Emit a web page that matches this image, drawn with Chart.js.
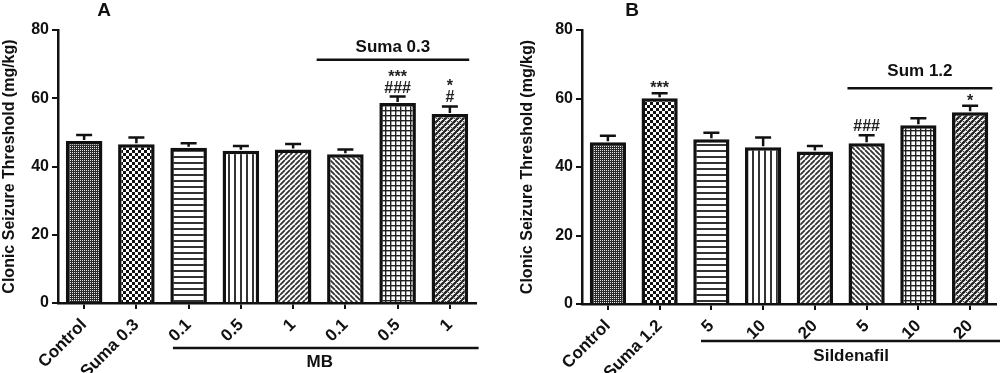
<!DOCTYPE html>
<html><head><meta charset="utf-8">
<script src="https://cdn.jsdelivr.net/npm/chart.js@4"></script>
<style>
html,body{margin:0;padding:0;background:#fff;}
#wrap{position:relative;width:1000px;height:373px;overflow:hidden;background:#fff;}
canvas{position:absolute;top:0;}
#cA{left:0}
#cB{left:500px}
</style></head><body>
<div id="wrap"><canvas id="cA" width="500" height="373"></canvas><canvas id="cB" width="500" height="373"></canvas></div>
<script>
// ---------- DATA ----------
const yTicks = [0, 20, 40, 60, 80];
const yTitle = 'Clonic Seizure Threshold (mg/kg)';

const categoriesA = ['Control', 'Suma 0.3', '0.1', '0.5', '1', '0.1', '0.5', '1'];
const valuesA = [47.5, 46.5, 45.5, 44.6, 45.0, 43.6, 58.6, 55.4];
const errorsA = [1.7, 2.0, 1.3, 1.4, 1.6, 1.4, 1.9, 2.2];
const marksA = [[], [], [], [], [], [], ['***', '###'], ['*', '#']];
const panelA = 'A';
const topGroupA = 'Suma 0.3';
const bottomGroupA = 'MB';

const categoriesB = ['Control', 'Suma 1.2', '5', '10', '20', '5', '10', '20'];
const valuesB = [47.2, 60.1, 48.1, 45.8, 44.5, 46.9, 52.2, 56.0];
const errorsB = [1.9, 1.4, 1.9, 2.8, 1.6, 2.4, 2.0, 1.9];
const marksB = [[], ['***'], [], [], [], ['###'], [], ['*']];
const panelB = 'B';
const topGroupB = 'Sum 1.2';
const bottomGroupB = 'Sildenafil';

// ---------- STYLE ----------
const FONT = "'Liberation Sans', Arial, Helvetica, sans-serif";
const INK = '#111';
Chart.defaults.font.family = FONT;
const patternKinds = ['fineCheck', 'coarseCheck', 'hLines', 'vLines', 'diagUp', 'diagDown', 'grid', 'dense'];

function makePattern(kind) {
  const c = document.createElement('canvas');
  const x = c.getContext('2d');
  let s;
  const diag = (size, up, lw, col) => {
    x.strokeStyle = col; x.lineWidth = lw; x.beginPath();
    for (let k = -size; k <= size; k += size) {
      if (up) { x.moveTo(k, size); x.lineTo(k + size, 0); }
      else { x.moveTo(k, 0); x.lineTo(k + size, size); }
    }
    x.stroke();
  };
  switch (kind) {
    case 'fineCheck':
      s = 2; c.width = c.height = s; x.fillStyle = '#2a2a2a'; x.fillRect(0, 0, s, s);
      x.fillStyle = '#e8e8e8'; x.fillRect(0, 0, 1, 1); break;
    case 'coarseCheck':
      s = 6; c.width = c.height = s; x.fillStyle = '#fff'; x.fillRect(0, 0, s, s);
      x.fillStyle = '#111'; x.fillRect(0, 0, 3, 3); x.fillRect(3, 3, 3, 3); break;
    case 'hLines':
      s = 6; c.width = c.height = s; x.fillStyle = '#fff'; x.fillRect(0, 0, s, s);
      x.fillStyle = '#333'; x.fillRect(0, 0, s, 2); break;
    case 'vLines':
      s = 6; c.width = c.height = s; x.fillStyle = '#fff'; x.fillRect(0, 0, s, s);
      x.fillStyle = '#333'; x.fillRect(0, 0, 2, s); break;
    case 'diagUp':
      s = 5; c.width = c.height = s; x.fillStyle = '#fff'; x.fillRect(0, 0, s, s);
      diag(s, true, 1.8, '#333'); break;
    case 'diagDown':
      s = 5; c.width = c.height = s; x.fillStyle = '#fff'; x.fillRect(0, 0, s, s);
      diag(s, false, 1.8, '#333'); break;
    case 'grid':
      s = 5; c.width = c.height = s; x.fillStyle = '#fff'; x.fillRect(0, 0, s, s);
      x.fillStyle = '#222'; x.fillRect(0, 0, s, 1.4); x.fillRect(0, 0, 1.4, s); break;
    case 'dense':
      s = 6; c.width = c.height = s; x.fillStyle = '#fff'; x.fillRect(0, 0, s, s);
      diag(s, true, 2.4, '#222'); diag(s, false, 1.0, '#444'); break;
  }
  return x.createPattern(c, 'repeat');
}

const extrasPlugin = {
  id: 'extras',
  afterDraw(chart, args, o) {
    const ctx = chart.ctx, xs = chart.scales.x, ys = chart.scales.y, ca = chart.chartArea;
    const vals = chart.data.datasets[0].data;
    ctx.save();
    // error bars
    ctx.strokeStyle = INK; ctx.lineWidth = 2.5; ctx.lineCap = 'butt';
    const tops = [];
    vals.forEach((v, i) => {
      const px = xs.getPixelForValue(i);
      const yb = ys.getPixelForValue(v);
      const yt = ys.getPixelForValue(v + o.errors[i]);
      tops.push(yt);
      ctx.beginPath();
      ctx.moveTo(px, yb - 1); ctx.lineTo(px, yt);
      ctx.moveTo(px - 8, yt); ctx.lineTo(px + 8, yt);
      ctx.stroke();
    });
    // significance marks
    ctx.fillStyle = '#222'; ctx.textAlign = 'center'; ctx.textBaseline = 'alphabetic';
    ctx.font = "bold 16px " + FONT;
    o.marks.forEach((list, i) => {
      const px = xs.getPixelForValue(i);
      let y = tops[i];
      for (let j = list.length - 1; j >= 0; j--) {
        const t = list[j];
        const base = t.indexOf('#') >= 0 ? 4 : 0;
        const yy = (j === list.length - 1) ? y - base : y;
        ctx.fillText(t, px, yy);
        y = yy - 11;
      }
    });
    // top bracket
    const tx0 = xs.getPixelForValue(o.top.from), tx1 = xs.getPixelForValue(o.top.to);
    const ty = ys.getPixelForValue(o.top.value);
    ctx.lineWidth = 2.5;
    ctx.beginPath(); ctx.moveTo(tx0, ty); ctx.lineTo(tx1, ty); ctx.stroke();
    ctx.fillStyle = INK; ctx.font = "bold 17px " + FONT; ctx.textBaseline = 'middle';
    ctx.fillText(o.top.label, (tx0 + tx1) / 2, ty - o.top.textGap);
    // bottom bracket
    const bx0 = xs.getPixelForValue(o.bottom.from), bx1 = xs.getPixelForValue(o.bottom.to);
    const by = ca.bottom + o.bottom.lineGap;
    ctx.beginPath(); ctx.moveTo(bx0, by); ctx.lineTo(bx1, by); ctx.stroke();
    ctx.fillText(o.bottom.label, (bx0 + bx1) / 2 + o.bottom.textShift, ca.bottom + o.bottom.textGap);
    // panel letter
    ctx.font = "bold 19px " + FONT; ctx.textBaseline = 'alphabetic';
    ctx.fillText(o.panel.text, o.panel.x, o.panel.y);
    ctx.restore();
  }
};

function buildChart(id, labels, values, cfg) {
  return new Chart(document.getElementById(id), {
    type: 'bar',
    data: {
      labels: labels,
      datasets: [{
        data: values,
        backgroundColor: patternKinds.map(makePattern),
        borderColor: INK, borderWidth: 3.5, borderSkipped: 'bottom',
        barPercentage: 0.7, categoryPercentage: 1
      }]
    },
    options: {
      responsive: false, animation: false, devicePixelRatio: 1,
      layout: { padding: cfg.padding },
      plugins: { legend: { display: false }, tooltip: { enabled: false }, extras: cfg.extras },
      scales: {
        x: {
          grid: { display: true, drawOnChartArea: false, offset: false, tickLength: 6, color: INK, lineWidth: 2 },
          border: { color: INK, width: 2.5 },
          ticks: { autoSkip: false, maxRotation: 45, minRotation: 45, color: INK, padding: 6,
                   font: { family: FONT, size: 17, weight: 'bold' } },
          afterFit: s => { s.height = cfg.xh; }
        },
        y: {
          min: 0, max: 80,
          afterBuildTicks: s => { s.ticks = yTicks.map(v => ({ value: v })); },
          grid: { drawOnChartArea: false, tickLength: 6, color: INK, lineWidth: 2 },
          border: { color: INK, width: 2.5 },
          ticks: { color: INK, padding: 3, font: { family: FONT, size: 16, weight: 'bold' } },
          title: { display: true, text: yTitle, color: INK, padding: { top: 0, bottom: 0 },
                   font: { family: FONT, size: 16, weight: 'bold' } },
          afterFit: s => { s.width = cfg.yw; }
        }
      }
    },
    plugins: [extrasPlugin]
  });
}

buildChart('cA', categoriesA, valuesA, {
  padding: { top: 30, right: 24, left: 0, bottom: 0 }, yw: 58, xh: 70,
  extras: {
    errors: errorsA, marks: marksA,
    top: { from: 4.45, to: 7.37, value: 71.3, label: topGroupA, textGap: 12 },
    bottom: { from: 1.7, to: 7.55, lineGap: 45, label: bottomGroupA, textGap: 59, textShift: -6 },
    panel: { text: panelA, x: 104, y: 16 }
  }
});
buildChart('cB', categoriesB, valuesB, {
  padding: { top: 30, right: 4, left: 18, bottom: 0 }, yw: 64, xh: 69,
  extras: {
    errors: errorsB, marks: marksB,
    top: { from: 4.63, to: 7.43, value: 63, label: topGroupB, textGap: 16.5 },
    bottom: { from: 1.8, to: 7.6, lineGap: 37, label: bottomGroupB, textGap: 52, textShift: 0 },
    panel: { text: panelB, x: 132, y: 16 }
  }
});
</script>
</body></html>
